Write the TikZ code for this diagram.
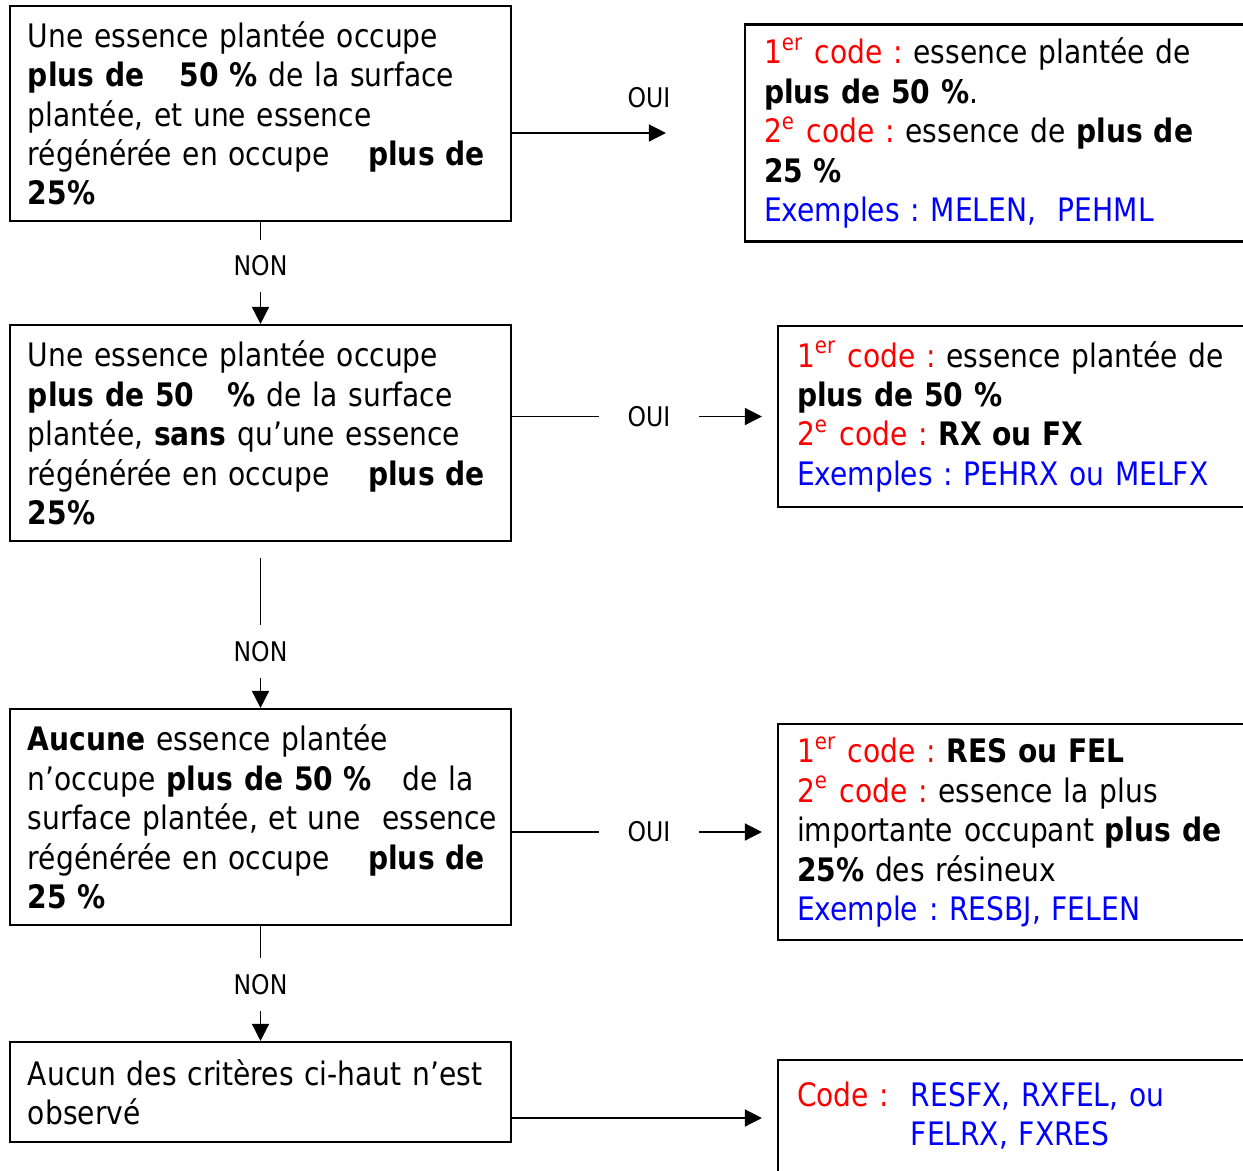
\documentclass[tikz,border=0pt]{standalone}
\usepackage{fontspec}
\setmainfont{DejaVu Sans}[FakeStretch=0.87]
\usetikzlibrary{arrows.meta}
\frenchspacing
\newcommand{\boxfont}{\fontsize{9.2}{11.2}\selectfont}
\newcommand{\tagfont}{\fontsize{7.7}{9}\selectfont}
\newcommand{\rouge}[1]{\textcolor{red}{#1}}
\newcommand{\bleu}[1]{\textcolor{blue}{#1}}

\begin{document}
\begin{tikzpicture}[
critere/.style={rectangle, draw, line width=0.6pt, align=left, font=\boxfont, inner xsep=0.18cm, text width=4.65cm},
resultat/.style={rectangle, draw, line width=0.6pt, align=left, font=\boxfont, inner xsep=0.19cm, text width=4.84cm},
tag/.style={fill=white, font=\tagfont, inner xsep=0.29cm, inner ysep=0.16cm},
arr/.style={-{Triangle[length=1.7mm, width=1.7mm]}, line width=0.4pt}
]
\useasboundingbox (0,0) rectangle (12.43,-11.71);

\node[critere, minimum height=2.15cm] (C1) at (2.605,-1.135) {Une essence plantée occupe\\
\textbf{plus de\hspace{0.75em} 50 \%} de la surface\\
plantée, et une essence\\
régénérée en occupe\hspace{0.85em} \textbf{plus de}\\
\textbf{25\%}};
\node[critere, minimum height=2.16cm] (C2) at (2.605,-4.33) {Une essence plantée occupe\\
\textbf{plus de 50\hspace{0.7em} \%} de la surface\\
plantée,\ \textbf{sans} qu’une essence\\
régénérée en occupe\hspace{0.85em} \textbf{plus de}\\
\textbf{25\%}};
\node[critere, minimum height=2.16cm] (C3) at (2.605,-8.17) {\textbf{Aucune} essence plantée\\
n’occupe \textbf{plus de 50 \%}\hspace{0.6em} de la\\
\mbox{surface plantée, et une\ \ essence}\\
régénérée en occupe\hspace{0.85em} \textbf{plus de}\\
\textbf{25 \%}};
\node[critere, minimum height=1.00cm] (C4) at (2.605,-10.92) {Aucun des critères ci-haut n’est\\
observé};

\node[resultat, text width=5.17cm, minimum height=2.17cm] (R1) at (10.225,-1.33) {\rouge{1\textsuperscript{er} code :} essence plantée de\\
\textbf{plus de 50 \%}.\\
\rouge{2\textsuperscript{e} code :} essence de \textbf{plus de}\\
\textbf{25 \%}\\
\bleu{Exemples : MELEN,\ \ PEHML}};
\node[resultat, minimum height=1.81cm] (R2) at (10.39,-4.165) {\rouge{1\textsuperscript{er} code :} essence plantée de\\
\textbf{plus de 50 \%}\\
\rouge{2\textsuperscript{e} code :} \textbf{RX ou FX}\\
\bleu{Exemples : PEHRX ou MELFX}};
\node[resultat, minimum height=2.16cm] (R3) at (10.39,-8.32) {\rouge{1\textsuperscript{er} code :} \textbf{RES ou FEL}\\
\rouge{2\textsuperscript{e} code :} essence la plus\\
importante occupant \textbf{plus de}\\
\textbf{25\%} des résineux\\
\bleu{Exemple : RESBJ, FELEN}};
\node[resultat, minimum height=1.16cm] (R4) at (10.39,-11.18) {\rouge{Code :}\ \ \bleu{\begin{tabular}[t]{@{}l@{}}RESFX, RXFEL, ou\\FELRX, FXRES\end{tabular}}};

\draw[arr, shorten >=0.78cm] (R1.west -| C1.east) -- node[pos=0.59, yshift=0.35cm, font=\tagfont] {OUI} (R1.west);
\draw[arr, shorten >=0.15cm] (R2.west -| C2.east) -- node[tag, pos=0.517] {OUI} (R2.west);
\draw[arr, shorten >=0.15cm] (R3.west -| C3.east) -- node[tag, pos=0.517] {OUI} (R3.west);
\draw[arr, shorten >=0.15cm] (R4.west -| C4.east) -- (R4.west);

\draw[arr] (C1) -- node[tag, pos=0.43] {NON} (C2);
\draw[arr, shorten <=0.16cm] (C2) -- node[tag, pos=0.66] {NON} (C3);
\draw[arr] (C3) -- node[tag, pos=0.51] {NON} (C4);

\end{tikzpicture}
\end{document}
